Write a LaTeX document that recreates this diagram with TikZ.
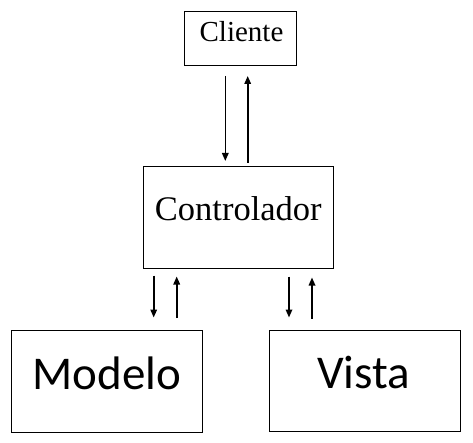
\documentclass[tikz,border=0pt]{standalone}
\usepackage{fontspec}
\setmainfont{Liberation Serif}
\newfontfamily\calib{Carlito}
\usetikzlibrary{arrows.meta}
\begin{document}
\begin{tikzpicture}[x=1pt,y=-1pt,
  box/.style={draw=black,line width=1pt,rectangle,inner sep=0pt},
  arr/.style={line width=1.6pt,-{Triangle[length=8pt,width=6.5pt]}},
  lbl/.style={anchor=base,inner sep=0pt}]
\useasboundingbox (0,0) rectangle (473,443);
\fill[white] (0,0) rectangle (473,443);
\node[box,minimum width=112.4pt,minimum height=54pt] (cliente) at (240.5,38.7) {};
\node[box,minimum width=190.3pt,minimum height=101.6pt] (ctrl) at (238.8,217.5) {};
\node[box,minimum width=190.6pt,minimum height=101.3pt] (modelo) at (107,381.6) {};
\node[box,minimum width=191.4pt,minimum height=101.3pt] (vista) at (365,380.7) {};
\node[lbl,font=\fontsize{29}{29}\selectfont] (tcli) at (241.5,41.7) {Cliente};
\node[lbl,font=\fontsize{34.5}{34.5}\selectfont] (tctrl) at (238.3,220.7) {Controlador};
\node[lbl,font=\calib\fontsize{47}{47}\selectfont] (tmod) at (106.7,389.3) {Modelo};
\node[lbl,font=\calib\fontsize{47}{47}\selectfont] (tvis) at (363.5,388.5) {Vista};
% arrow endpoints
\coordinate (a1s) at (225.3,76);   \coordinate (a1e) at (225.3,161);
\coordinate (a2s) at (247.7,163);  \coordinate (a2e) at (247.7,76);
\coordinate (b1s) at (153.7,275.7); \coordinate (b1e) at (153.7,317.5);
\coordinate (b2s) at (176.7,318);   \coordinate (b2e) at (176.7,276.5);
\coordinate (c1s) at (289,276.5);   \coordinate (c1e) at (289,317.5);
\coordinate (c2s) at (312,318.5);   \coordinate (c2e) at (312,277.5);
\draw[arr] (a1s) -- (a1e);
\draw[arr] (a2s) -- (a2e);
\draw[arr] (b1s) -- (b1e);
\draw[arr] (b2s) -- (b2e);
\draw[arr] (c1s) -- (c1e);
\draw[arr] (c2s) -- (c2e);
\end{tikzpicture}
\end{document}
